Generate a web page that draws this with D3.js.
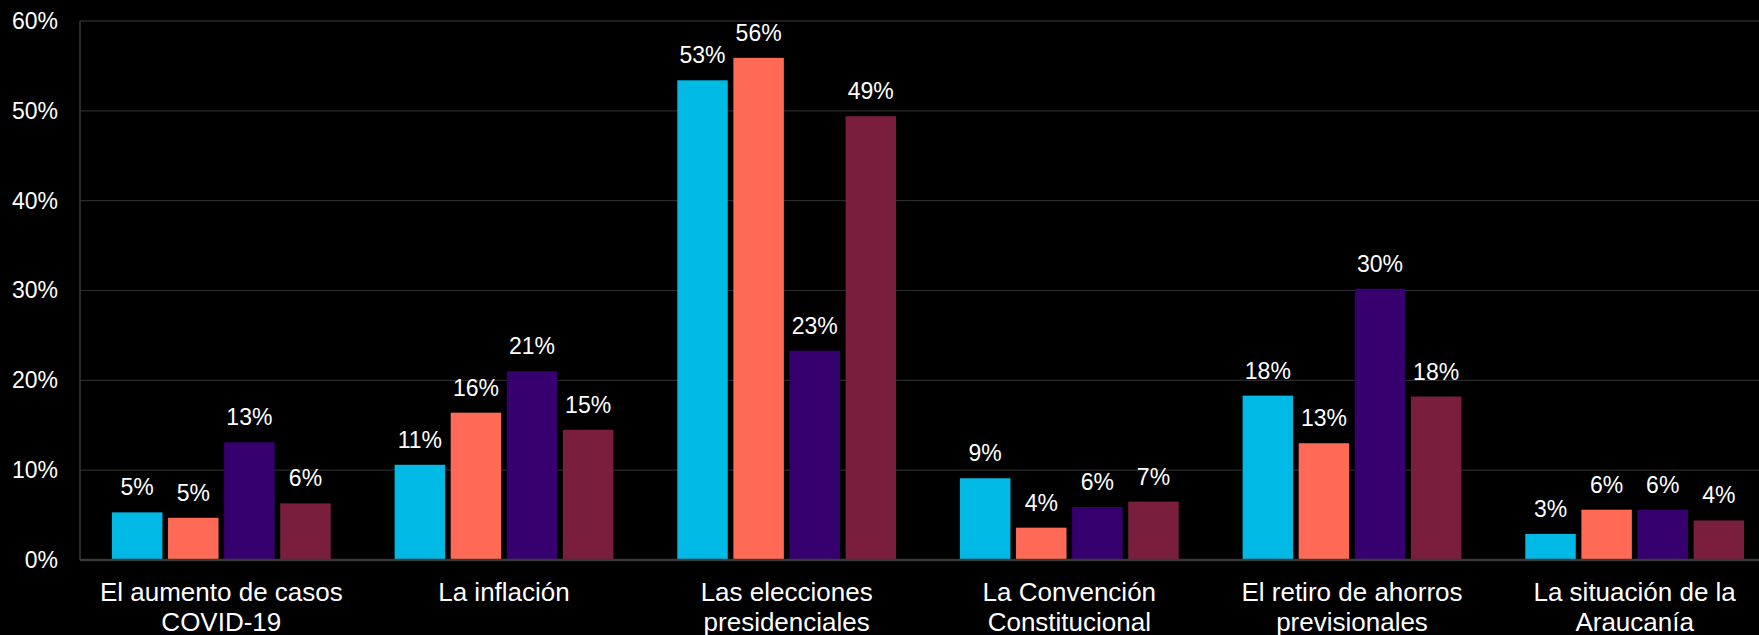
<!DOCTYPE html>
<html>
<head>
<meta charset="utf-8">
<script src="https://cdn.jsdelivr.net/npm/d3@7"></script>
<style>
  html, body { margin: 0; padding: 0; background: #000; }
  svg { display: block; }
</style>
</head>
<body>
<svg id="chart" width="1759" height="635"></svg>
<script>
// ---- data ----
const categories = [
  ["El aumento de casos", "COVID-19"],
  ["La inflación"],
  ["Las elecciones", "presidenciales"],
  ["La Convención", "Constitucional"],
  ["El retiro de ahorros", "previsionales"],
  ["La situación de la", "Araucanía"]
];
const seriesNames = ["Serie 1", "Serie 2", "Serie 3", "Serie 4"];
const serie1 = [5.3, 10.6, 53.4, 9.1, 18.3, 2.9];
const serie2 = [4.7, 16.4, 55.9, 3.6, 13.0, 5.6];
const serie3 = [13.1, 21.0, 23.3, 5.9, 30.2, 5.6];
const serie4 = [6.3, 14.5, 49.4, 6.5, 18.2, 4.4];
const seriesColors = ["#00B9E5", "#FF6A56", "#37006F", "#7A1E3D"];
const yTicks = [0, 10, 20, 30, 40, 50, 60];

const seriesValues = [serie1, serie2, serie3, serie4];

// ---- layout ----
const svg = d3.select("#chart");
const margin = { left: 80, top: 21, right: -17, bottom: 75 };
const W = 1759, H = 635;
const x0 = d3.scaleBand()
  .domain(d3.range(categories.length))
  .range([margin.left, W - margin.right])
  .paddingInner(0.226)
  .paddingOuter(0.113);
const x1 = d3.scaleBand()
  .domain(d3.range(seriesNames.length))
  .range([0, x0.bandwidth()])
  .paddingInner(0.1)
  .paddingOuter(0);
const y = d3.scaleLinear().domain([0, 60]).range([560, 21]);

const font = "Liberation Sans, Arial, sans-serif";

// gridlines
svg.append("g")
  .selectAll("line")
  .data(yTicks.filter(d => d > 0))
  .join("line")
  .attr("x1", margin.left)
  .attr("x2", W)
  .attr("y1", d => y(d))
  .attr("y2", d => y(d))
  .attr("stroke", d => d === 60 ? "#3a3a3a" : "#2b2b2b")
  .attr("stroke-width", 1.2);

// left axis line
svg.append("line")
  .attr("x1", margin.left).attr("x2", margin.left)
  .attr("y1", y(60)).attr("y2", y(0))
  .attr("stroke", "#3a3a3a").attr("stroke-width", 1.5);

// y axis labels
const yAxis = d3.axisLeft(y).tickValues(yTicks).tickFormat(d => d + "%").tickSize(0).tickPadding(22);
const gy = svg.append("g").attr("transform", `translate(${margin.left},0)`).call(yAxis);
gy.select(".domain").remove();
gy.selectAll("text")
  .attr("fill", "#ffffff")
  .style("font-family", font)
  .style("font-size", "23px");

// bars
const groups = svg.append("g")
  .selectAll("g")
  .data(categories.map((c, i) => i))
  .join("g")
  .attr("transform", i => `translate(${x0(i)},0)`);

groups.selectAll("rect")
  .data(i => seriesValues.map((s, k) => ({ k, v: s[i] })))
  .join("rect")
  .attr("x", d => x1(d.k))
  .attr("width", x1.bandwidth())
  .attr("y", d => y(d.v))
  .attr("height", d => y(0) - y(d.v))
  .attr("fill", d => seriesColors[d.k]);

groups.selectAll("text.val")
  .data(i => seriesValues.map((s, k) => ({ k, v: s[i] })))
  .join("text")
  .attr("class", "val")
  .attr("x", d => x1(d.k) + x1.bandwidth() / 2)
  .attr("y", d => y(d.v) - 17)
  .attr("text-anchor", "middle")
  .attr("fill", "#ffffff")
  .style("font-family", font)
  .style("font-size", "23px")
  .text(d => Math.round(d.v) + "%");

// baseline
svg.append("line")
  .attr("x1", margin.left).attr("x2", W)
  .attr("y1", y(0)).attr("y2", y(0))
  .attr("stroke", "#3a3a3a").attr("stroke-width", 2.5);

// category labels
const xl = svg.append("g");
categories.forEach((lines, i) => {
  const t = xl.append("text")
    .attr("x", x0(i) + x0.bandwidth() / 2)
    .attr("y", 601)
    .attr("text-anchor", "middle")
    .attr("fill", "#ffffff")
    .style("font-family", font)
    .style("font-size", "26px");
  lines.forEach((ln, j) => {
    t.append("tspan")
      .attr("x", x0(i) + x0.bandwidth() / 2)
      .attr("dy", j === 0 ? 0 : 29.5)
      .text(ln);
  });
});
</script>
</body>
</html>
